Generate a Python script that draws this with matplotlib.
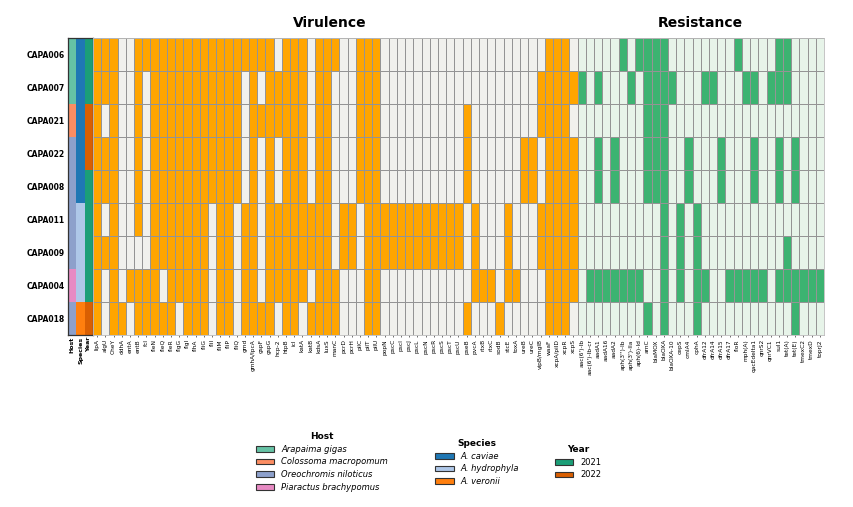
import matplotlib
matplotlib.use('Agg')
import matplotlib.pyplot as plt
import numpy as np
from matplotlib.colors import ListedColormap
from matplotlib.patches import Patch

isolates = ['CAPA006', 'CAPA007', 'CAPA021', 'CAPA022', 'CAPA008',
            'CAPA011', 'CAPA009', 'CAPA004', 'CAPA018']

host = ['Arapaima gigas', 'Arapaima gigas', 'Colossoma macropomum',
        'Oreochromis niloticus', 'Oreochromis niloticus', 'Oreochromis niloticus',
        'Oreochromis niloticus', 'Piaractus brachypomus', 'Oreochromis niloticus']
species = ['A. caviae', 'A. caviae', 'A. caviae', 'A. caviae', 'A. caviae',
           'A. hydrophyla', 'A. hydrophyla', 'A. hydrophyla', 'A. veronii']
year = ['2021', '2021', '2022', '2022', '2021', '2021', '2021', '2021', '2022']

host_levels = ['Arapaima gigas', 'Colossoma macropomum', 'Oreochromis niloticus',
               'Piaractus brachypomus']
host_colors = ['#66c2a5', '#fc8d62', '#8da0cb', '#e78ac3']
species_levels = ['A. caviae', 'A. hydrophyla', 'A. veronii']
species_colors = ['#1f77b4', '#aec7e8', '#ff7f0e']
year_levels = ['2021', '2022']
year_colors = ['#1b9e77', '#d95f02']

vir_genes = ['lipA', 'algU', 'CheY', 'ddhA', 'entA', 'entB', 'fcl', 'fleN', 'fleQ',
             'fleR', 'flgG', 'flgI', 'flhA', 'fliG', 'fliI', 'fliM', 'fliP', 'fliQ',
             'gmd', 'gmhA/lpcA', 'gspF', 'gspG', 'hcp-2', 'htpB', 'icl', 'katA',
             'katB', 'kdsA', 'luxS', 'manC', 'pcrD', 'pcrH', 'pilC', 'pilT', 'pilU',
             'popN', 'pscC', 'pscI', 'pscJ', 'pscL', 'pscN', 'pscR', 'pscS', 'pscT',
             'pscU', 'pseB', 'pvcA', 'rtxB', 'rtxC', 'sodB', 'stcE', 'toxA', 'ureB',
             'ureC', 'vipB/mglB', 'waaF', 'xcpA/pilD', 'xcpR', 'xcpS']
res_genes = ["aac(6')-Ib", "aac(6')-Ib-cr", 'aadA1', 'aadA16', 'aadA2',
             "aph(3'')-Ib", "aph(3')-IIa", 'aph(6)-Id', 'arnC', 'blaMOX', 'blaOXA',
             'blaOXA-10', 'cepS', 'cmlA4', 'cphA', 'dfrA12', 'dfrA14', 'dfrA15',
             'dfrA17', 'floR', 'mph(A)', 'qacEdelta1', 'qnrS2', 'qnrVC1', 'sul1',
             'tet(A)', 'tet(E)', 'tmexC2', 'tmexD', 'toprJ2']

# presence (1) / absence (0), one string per isolate, in gene order
vir_presence = [
    '1110011111' '1111111111' '1101110111' '0011100000' '0000000000' '000001110',
    '1110010111' '1111111101' '0111110110' '0011100000' '0000000000' '000011111',
    '1010010111' '1111111101' '1111110110' '0011100000' '0000010000' '000011110',
    '1110010111' '1111111101' '0101110110' '0011100000' '0000010000' '001101111',
    '1110010111' '1111111101' '0101110110' '0011100000' '0000010000' '001101111',
    '1010010111' '1111011011' '0111111110' '1101111111' '1111101000' '100011111',
    '1110000111' '1111011011' '0111111110' '1101111111' '1111101000' '100011111',
    '1010111101' '1111011011' '0111110111' '0001100000' '0000001110' '110001111',
    '1011011111' '0111011011' '1101101111' '0001100000' '0000010001' '000001110',
]
res_presence = [
    '0000010111' '1000000001' '0000110000',
    '1010001011' '1100011000' '1101110000',
    '0000000011' '1000000000' '0000000000',
    '0010100011' '1001000100' '0100101000',
    '0010100011' '1001000100' '0100101000',
    '0000000000' '1010100000' '0000000000',
    '0000000000' '1010100000' '0000010000',
    '0111111100' '1010110011' '1110111111',
    '0000000010' '1000100000' '0000001000',
]

vir = np.array([[int(ch) for ch in s] for s in vir_presence])
res = np.array([[int(ch) for ch in s] for s in res_presence])
codes = np.hstack([vir, res + 2])

cmap = ListedColormap(['#f1f1ed', '#ffa500', '#e7f4e9', '#3cb371'])

W, H = 854, 507
fig = plt.figure(figsize=(W / 100, H / 100), dpi=100)
ax_ann = fig.add_axes([68 / W, 1 - 335 / H, 25 / W, 297 / H])
ax = fig.add_axes([93 / W, 1 - 335 / H, 731 / W, 297 / H])

ax.pcolormesh(codes, cmap=cmap, vmin=-0.5, vmax=3.5,
              edgecolors='#949494', linewidth=0.4)
ax.set_xlim(0, codes.shape[1])
ax.set_ylim(codes.shape[0], 0)
genes = vir_genes + res_genes
ax.set_xticks(np.arange(len(genes)) + 0.5)
ax.set_xticklabels(genes, rotation=90, fontsize=4.2)
ax.set_yticks([])
ax.tick_params(axis='x', length=1.5, width=0.4, pad=1.5)
for s in ax.spines.values():
    s.set_color('#bbbbbb')
    s.set_linewidth(0.6)

ax.text(28.8, -0.45, 'Virulence', ha='center', va='center', fontsize=10,
        fontweight='bold')
ax.text(len(vir_genes) + len(res_genes) / 2, -0.45, 'Resistance', ha='center',
        va='center', fontsize=10, fontweight='bold')

ann_colors = host_colors + species_colors + year_colors
ann = np.array([[host_levels.index(h),
                 len(host_levels) + species_levels.index(s),
                 len(host_levels) + len(species_levels) + year_levels.index(y)]
                for h, s, y in zip(host, species, year)])
ax_ann.pcolormesh(ann, cmap=ListedColormap(ann_colors), vmin=-0.5,
                  vmax=len(ann_colors) - 0.5, edgecolors='none')
ax_ann.set_xlim(0, 3)
ax_ann.set_ylim(len(isolates), 0)
ax_ann.set_xticks(np.arange(3) + 0.5)
ax_ann.set_xticklabels(['Host', 'Species', 'Year'], rotation=90, fontsize=4.5,
                       fontweight='bold')
ax_ann.set_yticks(np.arange(len(isolates)) + 0.5)
ax_ann.set_yticklabels(isolates, fontsize=5.5, fontweight='bold')
ax_ann.tick_params(axis='both', length=0, pad=2)
ax_ann.tick_params(axis='x', pad=1.5)
for s in ax_ann.spines.values():
    s.set_color('#333333')
    s.set_linewidth(0.9)


def make_legend(levels, colors, title, anchor, italic=True):
    handles = [Patch(facecolor=c, edgecolor='#333333', linewidth=0.8) for c in colors]
    prop = {'size': 6}
    if italic:
        prop['style'] = 'italic'
    leg = fig.legend(handles, levels, title=title, loc='upper center',
                     bbox_to_anchor=anchor, frameon=False, prop=prop,
                     title_fontproperties={'weight': 'bold', 'size': 6.5},
                     handlelength=2.2, handleheight=0.7, labelspacing=0.45,
                     handletextpad=0.8, borderpad=0.2)
    return leg


make_legend(host_levels, host_colors, 'Host', (322 / W, 1 - 426 / H))
make_legend(species_levels, species_colors, 'Species', (477 / W, 1 - 433 / H))
make_legend(year_levels, year_colors, 'Year', (578 / W, 1 - 439 / H), italic=False)

fig.savefig('out.png', dpi=100)
